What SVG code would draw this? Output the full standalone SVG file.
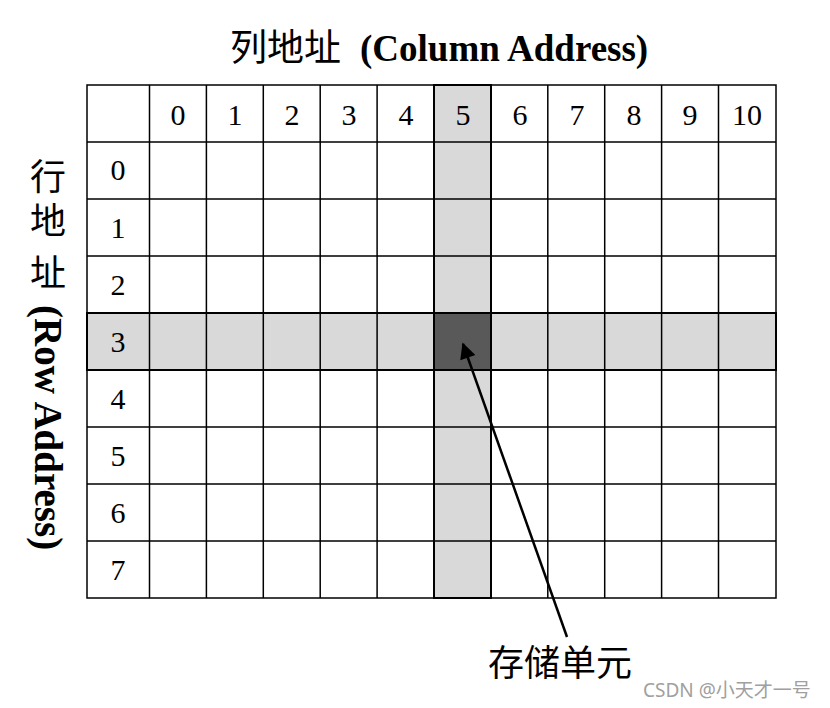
<svg xmlns="http://www.w3.org/2000/svg" width="830" height="708" viewBox="0 0 830 708">
<style>
.n{font-family:"Liberation Serif",serif;font-size:30px;text-anchor:middle;fill:#000}
.g{fill:none;stroke:#000;stroke-width:1.5}
.cj{font-family:"Liberation Serif","Noto Sans CJK SC",serif;fill:#000}
</style>
<defs>
<marker id="ah" viewBox="0 0 10 10" refX="9" refY="5" markerWidth="30" markerHeight="16" markerUnits="userSpaceOnUse" orient="auto">
<path d="M0,0 L10,5 L0,10 z" fill="#000"/>
</marker>
</defs>
<rect width="830" height="708" fill="#fff"/>
<g id="title">
<text class="cj" x="230" y="61" font-size="37">列地址</text>
<text class="cj" x="360" y="61" font-size="37" font-weight="bold">(Column Address)</text>
</g>
<g id="rowlabel">
<text class="cj" x="48" y="190" font-size="36" text-anchor="middle">行</text>
<text class="cj" x="48" y="234" font-size="36" text-anchor="middle">地</text>
<text class="cj" x="48" y="286" font-size="36" text-anchor="middle">址</text>
<text class="cj" font-size="39" font-weight="bold" transform="translate(35,305) rotate(90)">(Row Address)</text>
</g>
<g id="highlight">
<rect x="434" y="85" width="57" height="513" fill="#d9d9d9"/>
<rect x="87" y="313" width="689" height="57" fill="#d9d9d9"/>
<rect x="434" y="313" width="57" height="57" fill="#595959"/>
</g>
<g id="grid">
<rect class="g" x="87" y="85" width="689" height="513"/>
<path class="g" d="M149.5,85V598M206.4,85V598M263.3,85V598M320.2,85V598M377.1,85V598M434,85V598M490.9,85V598M547.8,85V598M604.7,85V598M661.6,85V598M718.5,85V598M87,142H776M87,199H776M87,256H776M87,313H776M87,370H776M87,427H776M87,484H776M87,541H776"/>
<rect x="434" y="85" width="57" height="513" fill="none" stroke="#000" stroke-width="2"/>
<rect x="87" y="313" width="689" height="57" fill="none" stroke="#000" stroke-width="2"/>
</g>
<g id="colnums">
<text class="n" x="178" y="125">0</text><text class="n" x="235" y="125">1</text><text class="n" x="292" y="125">2</text><text class="n" x="349" y="125">3</text><text class="n" x="406" y="125">4</text><text class="n" x="463" y="125">5</text><text class="n" x="520" y="125">6</text><text class="n" x="577" y="125">7</text><text class="n" x="634" y="125">8</text><text class="n" x="690" y="125">9</text><text class="n" x="747" y="125">10</text>
</g>
<g id="rownums">
<text class="n" x="118" y="180">0</text><text class="n" x="118" y="238">1</text><text class="n" x="118" y="295">2</text><text class="n" x="118" y="352">3</text><text class="n" x="118" y="409">4</text><text class="n" x="118" y="466">5</text><text class="n" x="118" y="523">6</text><text class="n" x="118" y="580">7</text>
</g>
<g id="connectors">
<line x1="567" y1="637" x2="463" y2="344" stroke="#000" stroke-width="2.5" marker-end="url(#ah)"/>
</g>
<g id="cell-label"><text class="cj" x="488" y="676" font-size="36">存储单元</text></g>
<g id="watermark"><text x="643" y="697" font-family="'Noto Sans','Noto Sans CJK SC',sans-serif" font-size="19" fill="#a0a0a0">CSDN @小天才一号</text></g>
</svg>
